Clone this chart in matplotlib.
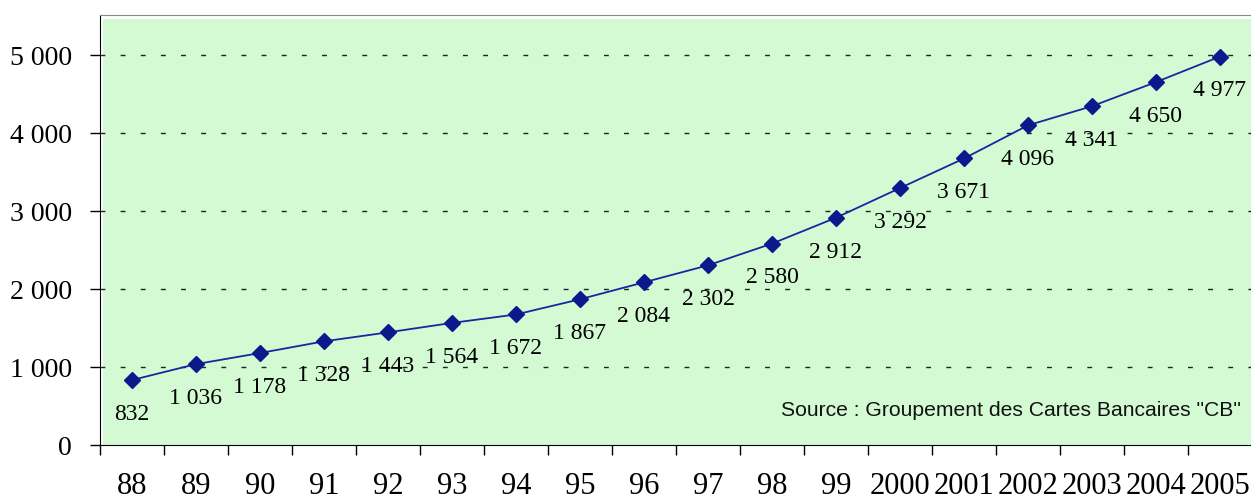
import matplotlib
matplotlib.use('Agg')

import matplotlib.pyplot as plt
from matplotlib.patches import Rectangle
from matplotlib.ticker import MultipleLocator, FixedLocator

# data
years = ["88", "89", "90", "91", "92", "93", "94", "95", "96", "97", "98", "99",
         "2000", "2001", "2002", "2003", "2004", "2005"]
values = [832, 1036, 1178, 1328, 1443, 1564, 1672, 1867, 2084, 2302, 2580, 2912,
          3292, 3671, 4096, 4341, 4650, 4977]
source = 'Source : Groupement des Cartes Bancaires "CB"'

def fmt(v):
    return "{:,}".format(int(v)).replace(",", " ")

plt.rcParams['font.family'] = ['Liberation Serif', 'DejaVu Serif']

fig = plt.figure(figsize=(12.51, 5.02), dpi=100)
ax = fig.add_axes([0.0799, 0.1116, 0.9209, 0.8566])
ax.set_facecolor('white')

# green plot area, slightly inset from the axes frame
ax.add_patch(Rectangle((0.003, 0), 0.997, 0.99, transform=ax.transAxes,
                       facecolor='#D3FAD3', edgecolor='none', zorder=0))

x = list(range(len(years)))
ax.plot(x, values, color='#1428A0', lw=1.3, marker='D', markersize=8,
        markerfacecolor='#0A1A8C', markeredgecolor='#0A1A8C', zorder=3)

for xi, v in zip(x, values):
    ax.annotate(fmt(v), (xi, v), xytext=(0, -24), textcoords='offset points',
                ha='center', va='center', fontsize=17, color='black')

ax.set_xlim(-0.5, len(years) - 0.5)
ax.set_ylim(0, 5510)

ax.yaxis.set_major_locator(MultipleLocator(1000))
ax.yaxis.set_major_formatter(matplotlib.ticker.FuncFormatter(lambda v, p: fmt(v)))
for yv in range(1000, 6000, 1000):
    ax.axhline(yv, color='#222222', lw=1, ls=(0, (3.5, 11)), zorder=1)

ax.set_xticks(x)
ax.set_xticklabels(years)
ax.xaxis.set_minor_locator(FixedLocator([i - 0.5 for i in range(len(years) + 1)]))
ax.tick_params(axis='x', which='major', length=0, pad=19, labelsize=22)
ax.tick_params(axis='x', which='minor', length=7, width=1, direction='out')
ax.tick_params(axis='y', which='major', length=7, width=1, direction='out',
               pad=13, labelsize=20)

ax.spines['top'].set_color('#888888')
ax.spines['right'].set_visible(False)
ax.spines['left'].set_color('black')
ax.spines['bottom'].set_color('black')

ax.text(0.99, 0.083, source, transform=ax.transAxes, ha='right', va='center',
        fontsize=15.2, family=['Liberation Sans', 'DejaVu Sans'], color='#111111')

fig.savefig('out.png', dpi=100)
